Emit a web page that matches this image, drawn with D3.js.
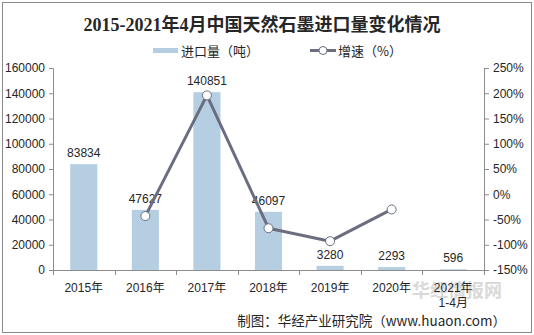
<!DOCTYPE html>
<html>
<head>
<meta charset="utf-8">
<script src="https://cdn.jsdelivr.net/npm/d3@7/dist/d3.min.js"></script>
<style>
  html, body { margin: 0; padding: 0; background: #fff; }
  svg text { font-family: "Liberation Sans", Arial, "Noto Sans CJK SC", sans-serif; }
</style>
</head>
<body>
<svg id="chart" width="534" height="335"></svg>
<script>
// Import volume of natural graphite, 2015 – Apr 2021
const categories = ["2015年", "2016年", "2017年", "2018年", "2019年", "2020年", "2021年\n1-4月"];
const importTons = [83834, 47627, 140851, 46097, 3280, 2293, 596];
// Year-on-year growth (%), no value for the first year and the partial year
const growthPct = [null, -43.2, 195.7, -67.3, -92.9, -30.1, null];
const leftTicks = [0, 20000, 40000, 60000, 80000, 100000, 120000, 140000, 160000];
const rightTicks = [-150, -100, -50, 0, 50, 100, 150, 200, 250];

const svg = d3.select("#chart");
const W = 534, H = 335;
const plot = { left: 53, right: 484, top: 68, bottom: 270 };

// outer frame
svg.append("rect").attr("x", 2.5).attr("y", 2.5).attr("width", W - 5).attr("height", H - 5)
  .attr("fill", "#fff").attr("stroke", "#8a8a8a").attr("stroke-width", 1);

// title
svg.append("text").attr("x", 262).attr("y", 31).attr("text-anchor", "middle")
  .style("font-family", "'Liberation Serif', 'Noto Sans CJK SC', serif")
  .style("font-weight", "bold").style("font-size", "18px").attr("fill", "#262626")
  .text("2015-2021年4月中国天然石墨进口量变化情况");

const x = d3.scaleBand().domain(categories).range([plot.left, plot.right]).paddingInner(0).paddingOuter(0);
const yL = d3.scaleLinear().domain([0, 160000]).range([plot.bottom, plot.top]);
const yR = d3.scaleLinear().domain([-150, 250]).range([plot.bottom, plot.top]);
const barW = x.bandwidth() * 0.44;

// bars
svg.append("g").selectAll("rect").data(importTons).join("rect")
  .attr("x", (d, i) => x(categories[i]) + (x.bandwidth() - barW) / 2)
  .attr("y", d => yL(d))
  .attr("width", barW)
  .attr("height", d => plot.bottom - yL(d))
  .attr("fill", "#b5cee1");

// bar value labels
svg.append("g").selectAll("text").data(importTons).join("text")
  .attr("x", (d, i) => x(categories[i]) + x.bandwidth() / 2)
  .attr("y", d => yL(d) - 7)
  .attr("text-anchor", "middle")
  .style("font-size", "12px").attr("fill", "#262626")
  .text(d => d);

// left axis
const axL = svg.append("g").attr("transform", `translate(${plot.left},0)`)
  .call(d3.axisLeft(yL).tickValues(leftTicks).tickSize(4).tickPadding(4).tickFormat(d3.format("d")));
axL.select(".domain").attr("stroke", "#8c8c8c");
axL.selectAll(".tick line").attr("stroke", "#8c8c8c");
axL.selectAll("text").style("font-size", "12px").attr("fill", "#262626");

// right axis
const axR = svg.append("g").attr("transform", `translate(${plot.right},0)`)
  .call(d3.axisRight(yR).tickValues(rightTicks).tickSize(5).tickPadding(4).tickFormat(d => d + "%"));
axR.select(".domain").attr("stroke", "#8c8c8c");
axR.selectAll(".tick line").attr("stroke", "#8c8c8c");
axR.selectAll("text").style("font-size", "12px").attr("fill", "#262626");

// x axis with boundary ticks
const xAxisG = svg.append("g");
xAxisG.append("line").attr("x1", plot.left).attr("x2", plot.right)
  .attr("y1", plot.bottom + 0.5).attr("y2", plot.bottom + 0.5).attr("stroke", "#8c8c8c");
const bounds = categories.map(c => x(c)).concat([x(categories[categories.length - 1]) + x.bandwidth()]);
xAxisG.selectAll("line.tk").data(bounds).join("line").attr("class", "tk")
  .attr("x1", d => Math.round(d) + 0.5).attr("x2", d => Math.round(d) + 0.5)
  .attr("y1", plot.bottom).attr("y2", plot.bottom + 5).attr("stroke", "#8c8c8c");
xAxisG.selectAll("text").data(categories).join("text")
  .attr("x", d => x(d) + x.bandwidth() / 2)
  .attr("y", 292)
  .attr("text-anchor", "middle")
  .style("font-size", "12px").attr("fill", "#262626")
  .each(function (d) {
    const lines = d.split("\n");
    d3.select(this).selectAll("tspan").data(lines).join("tspan")
      .attr("x", x(d) + x.bandwidth() / 2)
      .attr("dy", (l, i) => i === 0 ? 0 : 15)
      .text(l => l);
  });

// growth line
const pts = growthPct.map((v, i) => ({ v, c: categories[i] })).filter(p => p.v !== null);
const line = d3.line().x(p => x(p.c) + x.bandwidth() / 2).y(p => yR(p.v));
svg.append("path").datum(pts).attr("d", line)
  .attr("fill", "none").attr("stroke", "#6b6e80").attr("stroke-width", 3).attr("stroke-linejoin", "round");
svg.append("g").selectAll("circle").data(pts).join("circle")
  .attr("cx", p => x(p.c) + x.bandwidth() / 2).attr("cy", p => yR(p.v)).attr("r", 4.5)
  .attr("fill", "#fff").attr("stroke", "#6b6e80").attr("stroke-width", 1);

// legend
const lg = svg.append("g");
lg.append("rect").attr("x", 153).attr("y", 48).attr("width", 25).attr("height", 5).attr("fill", "#b5cee1");
lg.append("text").attr("x", 181).attr("y", 56).style("font-size", "13px").attr("fill", "#262626")
  .style("font-family", "'Noto Sans CJK SC', sans-serif").text("进口量（吨）");
lg.append("line").attr("x1", 310).attr("x2", 336).attr("y1", 50.5).attr("y2", 50.5)
  .attr("stroke", "#6b6e80").attr("stroke-width", 3);
lg.append("circle").attr("cx", 323).attr("cy", 50.5).attr("r", 4)
  .attr("fill", "#fff").attr("stroke", "#6b6e80").attr("stroke-width", 1);
lg.append("text").attr("x", 338).attr("y", 56).style("font-size", "13px").attr("fill", "#262626")
  .style("font-family", "'Noto Sans CJK SC', sans-serif").text("增速（%）");

// watermark, drawn faintly behind the last category label
svg.insert("text", "g").attr("x", 457).attr("y", 297).attr("text-anchor", "middle")
  .style("font-family", "'Noto Sans CJK SC', sans-serif").style("font-weight", "bold")
  .style("font-size", "18px").attr("fill", "#cdcdcd").attr("opacity", 0.75).text("华经情报网");

// source note
svg.append("text").attr("x", 506).attr("y", 326).attr("text-anchor", "end")
  .style("font-family", "'Noto Sans CJK SC', sans-serif")
  .style("font-size", "13.5px").attr("fill", "#262626").text("制图：华经产业研究院（www.huaon.com）");
</script>
</body>
</html>
